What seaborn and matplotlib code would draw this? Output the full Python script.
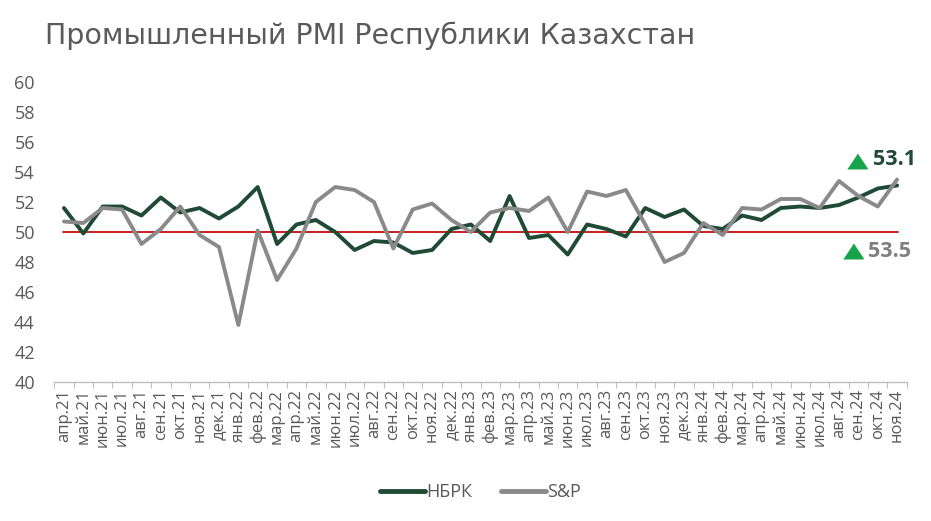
import matplotlib
matplotlib.use("Agg")
import matplotlib.pyplot as plt
import seaborn as sns
import pandas as pd
import numpy as np

months = ["апр.21","май.21","июн.21","июл.21","авг.21","сен.21","окт.21","ноя.21","дек.21",
          "янв.22","фев.22","мар.22","апр.22","май.22","июн.22","июл.22","авг.22","сен.22","окт.22","ноя.22","дек.22",
          "янв.23","фев.23","мар.23","апр.23","май.23","июн.23","июл.23","авг.23","сен.23","окт.23","ноя.23","дек.23",
          "янв.24","фев.24","мар.24","апр.24","май.24","июн.24","июл.24","авг.24","сен.24","окт.24","ноя.24"]

nbrk = [51.6, 49.9, 51.7, 51.7, 51.1, 52.3, 51.3, 51.6, 50.9,
        51.7, 53.0, 49.2, 50.5, 50.8, 50.0, 48.8, 49.4, 49.3, 48.6, 48.8, 50.2,
        50.5, 49.4, 52.4, 49.6, 49.8, 48.5, 50.5, 50.2, 49.7, 51.6, 51.0, 51.5,
        50.4, 50.2, 51.1, 50.8, 51.6, 51.7, 51.6, 51.8, 52.3, 52.9, 53.1]

sp = [50.7, 50.6, 51.6, 51.5, 49.2, 50.2, 51.7, 49.8, 49.0,
      43.8, 50.1, 46.8, 48.9, 52.0, 53.0, 52.8, 52.0, 48.9, 51.5, 51.9, 50.8,
      50.0, 51.3, 51.6, 51.4, 52.3, 50.0, 52.7, 52.4, 52.8, 50.5, 48.0, 48.6,
      50.6, 49.8, 51.6, 51.5, 52.2, 52.2, 51.6, 53.4, 52.4, 51.7, 53.5]

series_names = ["НБРК", "S&P"]
colors = ["#1f4a35", "#8a8a8a"]
threshold = 50
last_labels = ["53.1", "53.5"]

df = pd.DataFrame({
    "idx": list(range(len(months))) * 2,
    "value": nbrk + sp,
    "series": [series_names[0]] * len(months) + [series_names[1]] * len(months),
})

sns.set_theme(style="white")
plt.rcParams['font.family'] = ['Open Sans', 'DejaVu Sans']

fig = plt.figure(figsize=(9.31, 5.21), dpi=100)
ax = fig.add_axes([0.0583, 0.2668, 0.9157, 0.5758])

sns.lineplot(data=df, x="idx", y="value", hue="series", palette=colors,
             linewidth=2.8, ax=ax, legend=True, sort=False)
ax.axhline(threshold, color="#c81e1e", linewidth=1.4, xmin=0.01, xmax=0.99, zorder=1)

ax.set_xlim(-0.5, len(months) - 0.5)
ax.set_ylim(40, 60)
ax.set_yticks(np.arange(40, 61, 2))
ax.set_xticks(range(len(months)))
ax.set_xticklabels(months, rotation=90)
ax.set_xticks(np.arange(-0.5, len(months), 1), minor=True)
ax.tick_params(axis="x", which="major", length=0, labelsize=12, colors="#595959", pad=5)
ax.tick_params(axis="x", which="minor", length=4, color="#bfbfbf", width=0.8, bottom=True)
ax.tick_params(axis="y", length=0, labelsize=13, colors="#595959", pad=14)
ax.set_xlabel("")
ax.set_ylabel("")
for s in ["top", "right", "left"]:
    ax.spines[s].set_visible(False)
ax.spines["bottom"].set_color("#bfbfbf")
ax.spines["bottom"].set_linewidth(1.0)

leg = ax.legend(loc="center", bbox_to_anchor=(0.5, -0.367), ncol=2, frameon=False,
                fontsize=13, handlelength=2.5, handletextpad=0.05, columnspacing=1.6)
for t in leg.get_texts():
    t.set_color("#595959")
for h in leg.get_lines():
    h.set_linewidth(3.5)

# last-value annotations
tri = [(-1, -0.75), (1, -0.75), (0, 0.75)]
ax.plot([40.94], [54.73], marker=tri, color="#16a34a", markersize=14, linestyle="none", clip_on=False)
ax.text(41.75, 54.85, last_labels[0], color=colors[0], fontsize=15.5, fontweight="bold", va="center", ha="left")
ax.plot([40.73], [48.73], marker=tri, color="#16a34a", markersize=14, linestyle="none", clip_on=False)
ax.text(41.5, 48.7, last_labels[1], color="#7f7f7f", fontsize=15.5, fontweight="bold", va="center", ha="left")

fig.text(0.048, 0.932, "Промышленный PMI Республики Казахстан", fontsize=20.5, color="#5a5a5a",
         va="center", ha="left", family=["DejaVu Sans"])

fig.savefig("out.png", dpi=100)
